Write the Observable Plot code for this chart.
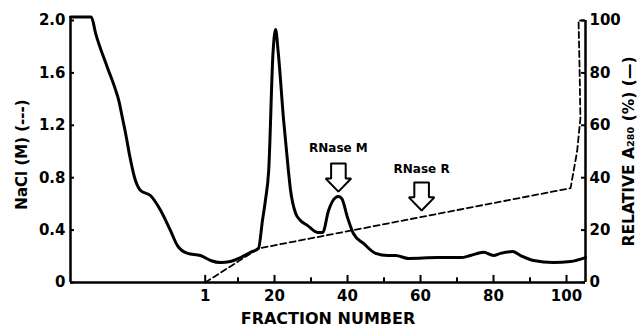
<!DOCTYPE html>
<html><head><meta charset="utf-8">
<script src="https://cdn.jsdelivr.net/npm/d3@7"></script>
<script src="https://cdn.jsdelivr.net/npm/@observablehq/plot@0.6"></script>
<style>body{margin:0;background:#fff} svg{display:block}</style>
</head><body><div id="chart"></div>
<script>
// Relative A280 (%) — solid curve (right axis)
const a280Fraction = [-35.9,-30.2,-29.0,-25.8,-23.6,-22.7,-21.7,-20.8,-19.7,-18.1,-16.7,-14.0,-11.2,-8.5,-6.6,-3.8,-0.3,2.5,5.2,7.9,10.7,13.4,15.6,16.7,17.5,18.4,19.6,20.3,21.0,22.5,23.8,24.4,25.8,27.1,29.0,31.8,33.2,34.8,36.7,37.5,38.4,40.0,41.6,44.4,47.7,51.0,53.2,56.7,64.7,71.0,73.7,77.3,80.0,81.9,85.2,87.4,91.0,96.4,101.1,105.2];
const a280Percent  = [101.3,101.3,95.0,82.1,73.7,69.6,63.0,56.9,48.5,38.9,35.1,33.2,27.5,19.8,14.1,11.1,10.3,8.4,7.6,8.0,9.5,11.5,13.0,23.7,31.3,42.7,88.0,96.6,88.0,61.8,42.7,35.1,26.3,23.7,21.8,19.1,19.1,27.5,32.4,32.8,32.1,24.8,18.7,14.9,11.1,10.3,10.3,9.2,9.5,9.5,10.3,11.5,10.3,11.1,11.8,10.3,8.4,7.6,8.0,9.5];
// NaCl (M) — dashed gradient (left axis)
const naclFraction = [1.0,15.6,101.1,102.9,103.8,103.6,103.3,104.8];
const naclMolar    = [0,0.26,0.72,1.0,1.25,1.6,2.0,2.0];
// axes
const xTickValues = [1,20,40,60,80,100];
const xTickLabels = ["1","20","40","60","80","100"];
const xMinorTicks = [10,30,50,70,90];
const percentTicks = [0,20,40,60,80,100];
const naclTickLabels = ["0","0.4","0.8","1.2","1.6","2.0"];
const percentTickLabels = ["0","20","40","60","80","100"];
// annotations
const enzymeNames = ["RNase M","RNase R"];
const enzymeFraction = [37.5, 60.3];
const arrowTopPct = [45.4, 38.2];
const labelPct = [51.3, 43.1];

const xMin = -35.9, xMax = 105.2;
const molarToPct = 50;

const a280 = a280Fraction.map((f,i)=>({f, p:a280Percent[i]}));
const nacl = naclFraction.map((f,i)=>({f, p:naclMolar[i]*molarToPct}));

// hollow arrow outlines built from annotation values
const shaftHalf = 2.0, headHalf = 3.5, shaftLen = 5.7, headLen = 5.0;
const arrowPts = [];
enzymeNames.forEach((name,i)=>{
  const x = enzymeFraction[i], t = arrowTopPct[i], h = t - shaftLen, tip = h - headLen;
  [[x-shaftHalf,t],[x+shaftHalf,t],[x+shaftHalf,h],[x+headHalf,h],[x,tip],[x-headHalf,h],[x-shaftHalf,h],[x-shaftHalf,t]]
    .forEach(([px,py])=>arrowPts.push({name,f:px,p:py}));
});
const labels = enzymeNames.map((name,i)=>({name,f:enzymeFraction[i],p:labelPct[i]}));

const font = "'DejaVu Sans', sans-serif";
const chart = Plot.plot({
  width: 644, height: 327,
  marginLeft: 70, marginRight: 59, marginTop: 20, marginBottom: 45,
  x: {domain: [xMin, xMax], axis: null},
  y: {domain: [0, 100], axis: null},
  style: {fontFamily: font, fontSize: "14px", fontWeight: "bold", color: "black", background: "white"},
  marks: [
    // frame lines
    Plot.ruleY([0], {stroke: "black", strokeWidth: 2.5}),
    Plot.ruleX([xMin], {y1: 0, y2: 101.3, stroke: "black", strokeWidth: 2.5}),
    Plot.ruleX([xMax], {y1: 0, y2: 100, stroke: "black", strokeWidth: 2.5}),
    // x ticks (inward)
    Plot.ruleX(xTickValues, {y1: 0, y2: 2.7, stroke: "black", strokeWidth: 2}),
    Plot.ruleX(xMinorTicks, {y1: 0, y2: 1.8, stroke: "black", strokeWidth: 2}),
    // y ticks (inward)
    Plot.ruleY(percentTicks, {x1: xMin, x2: xMin + 1.1, stroke: "black", strokeWidth: 2}),
    Plot.ruleY(percentTicks, {x1: xMax - 1.1, x2: xMax, stroke: "black", strokeWidth: 2}),
    // tick labels
    Plot.text(xTickValues, {x: d=>d, y: 0, text: (d,i)=>xTickLabels[i], dy: 14, fontSize: 15}),
    Plot.text(percentTicks, {x: xMin, y: d=>d, text: (d,i)=>naclTickLabels[i], textAnchor: "end", dx: -5, fontSize: 15}),
    Plot.text(percentTicks, {x: xMax, y: d=>d, text: (d,i)=>percentTickLabels[i], textAnchor: "start", dx: 4, fontSize: 15}),
    // axis titles
    Plot.text(["FRACTION NUMBER"], {frameAnchor: "bottom", textAnchor: "middle", dy: 36, fontSize: 16, fontWeight: 600, lineAnchor: "middle"}),
    Plot.text(["NaCl (M) (---)"], {frameAnchor: "left", textAnchor: "middle", dx: -48, dy: 3, rotate: -90, fontSize: 15}),
    Plot.text(["RELATIVE A\u2082\u2088\u2080 (%) (\u2014)"], {frameAnchor: "right", textAnchor: "middle", dx: 44, dy: 0, rotate: -90, fontSize: 15.5}),
    // data
    Plot.line(nacl, {x: "f", y: "p", stroke: "black", strokeWidth: 1.8, strokeDasharray: "6,3.5"}),
    Plot.line(a280, {x: "f", y: "p", stroke: "black", strokeWidth: 3, curve: "monotone-x", strokeLinejoin: "round"}),
    // annotations
    Plot.line(arrowPts, {x: "f", y: "p", z: "name", fill: "white", stroke: "black", strokeWidth: 2, strokeLinejoin: "miter"}),
    Plot.text(labels, {x: "f", y: "p", text: "name", fontSize: 12})
  ]
});
document.getElementById("chart").appendChild(chart);
</script>
</body></html>
